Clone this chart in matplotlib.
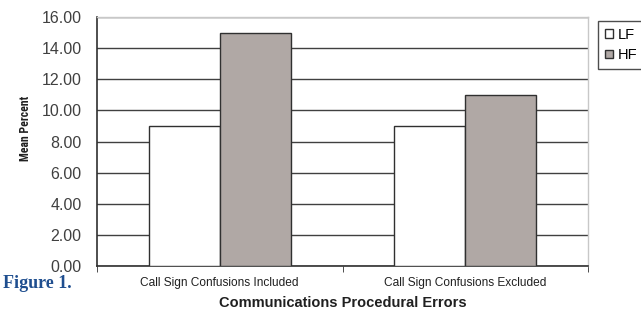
import matplotlib
matplotlib.use("Agg")
import matplotlib.pyplot as plt
import numpy as np
import logging
logging.getLogger("matplotlib.font_manager").setLevel(logging.ERROR)
from matplotlib.ticker import FixedLocator

categories = ["Call Sign Confusions Included", "Call Sign Confusions Excluded"]
series_names = ["LF", "HF"]
lf_values = [9.0, 9.0]
hf_values = [15.0, 11.0]
yticks = [0, 2, 4, 6, 8, 10, 12, 14, 16]

fig = plt.figure(figsize=(6.41, 3.13), dpi=100)
ax = fig.add_axes([97/641, 1-266/313, (588-97)/641, (266-17)/313])

x = np.arange(len(categories))
w = 0.29
ax.bar(x - w/2, lf_values, width=w, color="white", edgecolor="#303030", linewidth=1.0, zorder=3, label=series_names[0])
ax.bar(x + w/2, hf_values, width=w, color="#b0a8a5", edgecolor="#303030", linewidth=1.0, zorder=3, label=series_names[1])

ax.set_xlim(-0.5, len(categories) - 0.5)
ax.set_ylim(0, 16)
ax.set_yticks(yticks)
ax.set_yticklabels([f"{v:.2f}" for v in yticks], fontsize=11.5, color="#404040", family="Liberation Sans")
ax.yaxis.grid(True, color="#404040", linewidth=1.0, zorder=1)
ax.tick_params(axis="y", length=0, pad=11)

ax.set_xticks(x)
ax.set_xticklabels(categories, fontsize=8.6, family="Liberation Sans", color="#202020")
ax.tick_params(axis="x", length=0, pad=8)
ax.xaxis.set_minor_locator(FixedLocator([-0.5, 0.5, 1.5]))
ax.tick_params(axis="x", which="minor", length=4, color="#303030", direction="out")

for s in ["left", "bottom"]:
    ax.spines[s].set_color("#303030")
    ax.spines[s].set_linewidth(1.2)
for s in ["top", "right"]:
    ax.spines[s].set_color("#c8c8c8")
    ax.spines[s].set_linewidth(1.0)

ax.set_xlabel("Communications Procedural Errors", fontsize=10.5, fontweight="bold",
              family="Liberation Sans", color="#202020", labelpad=5)
ax.set_ylabel("Mean Percent", fontsize=8.5, fontweight="bold",
              family=["Roboto Condensed", "Open Sans Condensed", "Liberation Sans"], color="#202020")
ax.yaxis.set_label_coords((32-97)/491, (266-128)/249)

leg = fig.legend(loc="upper left", bbox_to_anchor=(598/641, 1-21/313), borderaxespad=0,
                 frameon=True, fancybox=False, edgecolor="#202020", handlelength=0.55,
                 handleheight=0.55, handletextpad=0.35, borderpad=0.45, labelspacing=0.45,
                 prop={"family": "Liberation Sans", "size": 10.5})
leg.get_frame().set_linewidth(1.0)

fig.text(3/641, 1-283/313, "Figure 1.", fontsize=13, fontweight="bold",
         family="Liberation Serif", color="#1f4e8f", va="center", ha="left")

fig.savefig("out.png", dpi=100)
